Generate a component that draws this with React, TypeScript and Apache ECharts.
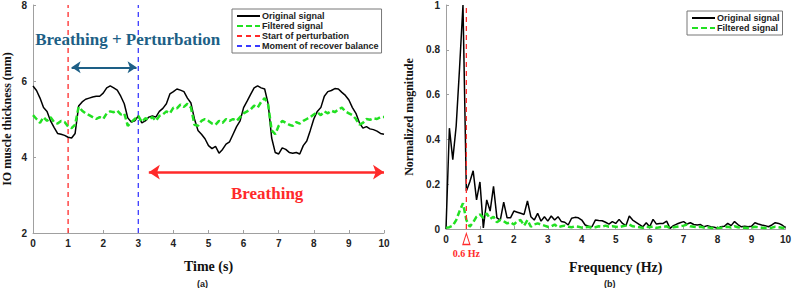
import React, { useEffect, useRef } from "react";
import * as echarts from "echarts";

// ---- data ----
const timeStep = 0.1; // s
const originalSignal = [
  5.87, 5.75, 5.55, 5.3, 5.2, 4.95, 4.78, 4.62, 4.6, 4.57,
  4.52, 4.5, 4.62, 5.34, 5.45, 5.52, 5.55, 5.58, 5.6, 5.6,
  5.68, 5.82, 5.87, 5.82, 5.76, 5.6, 5.4, 5.03, 4.92, 4.95,
  5.08, 4.9, 4.95, 5.05, 5.08, 5.05, 5.2, 5.28, 5.4, 5.66,
  5.72, 5.79, 5.76, 5.72, 5.55, 5.42, 5.0, 4.7, 4.6, 4.48,
  4.3, 4.22, 4.28, 4.1, 4.2, 4.34, 4.4, 4.6, 4.8, 4.95,
  5.3, 5.47, 5.65, 5.82, 5.87, 5.82, 5.79, 5.4, 4.5, 4.12,
  4.08, 4.24, 4.2, 4.12, 4.1, 4.12, 4.08, 4.3, 4.42, 4.7,
  5.0, 5.2, 5.3, 5.6, 5.72, 5.75, 5.8, 5.79, 5.7, 5.62,
  5.5, 5.3, 5.15, 4.9, 4.76, 4.8, 4.74, 4.72, 4.68, 4.62,
  4.6,
];
const filteredSignal = [
  5.1, 5.0, 4.9, 5.05, 4.95, 5.05, 4.92, 4.88, 4.95, 4.92,
  4.8, 4.76, 4.85, 5.32, 5.22, 5.15, 5.1, 5.05, 5.0, 5.05,
  5.0, 5.15, 5.2, 5.18, 5.22, 5.12, 5.15, 4.82, 4.92, 5.0,
  5.08, 4.92, 5.02, 4.98, 5.05, 4.95, 5.08, 5.12, 5.2, 5.15,
  5.3, 5.28, 5.38, 5.32, 5.4, 5.3, 4.85, 4.82, 4.95, 5.0,
  4.95, 4.88, 4.85, 4.95, 4.9, 5.0, 4.95, 5.0, 4.95, 5.05,
  5.15, 5.2, 5.25, 5.35, 5.3, 5.45, 5.55, 5.38, 4.7, 4.6,
  4.82, 4.95, 4.9, 4.85, 4.82, 4.92, 4.88, 4.95, 5.0, 5.05,
  5.12, 5.18, 5.1, 5.2, 5.15, 5.22, 5.18, 5.25, 5.3, 5.2,
  5.15, 5.1, 5.0, 4.85, 4.9, 5.0, 4.98, 5.02, 5.0, 5.05,
  5.05,
];
const freqStep = 0.1; // Hz
const originalSpectrum = [
  0.0, 0.45, 0.31, 0.46, 0.72, 1.0, 0.17, 0.21, 0.26, 0.13,
  0.21, 0.005, 0.13, 0.08, 0.19, 0.05, 0.04, 0.12, 0.05, 0.05,
  0.08, 0.075, 0.07, 0.065, 0.125, 0.055, 0.04, 0.07, 0.035, 0.055,
  0.035, 0.058, 0.04, 0.055, 0.033, 0.03, 0.018, 0.048, 0.052, 0.05,
  0.04, 0.018, 0.012, 0.01, 0.04, 0.038, 0.037, 0.03, 0.022, 0.033,
  0.025, 0.043, 0.025, 0.015, 0.058, 0.04, 0.03, 0.02, 0.01, 0.028,
  0.01, 0.043, 0.022, 0.025, 0.025, 0.035, 0.003, 0.015, 0.022, 0.028,
  0.033, 0.022, 0.028, 0.02, 0.018, 0.02, 0.01, 0.015, 0.01, 0.008,
  0.003, 0.01, 0.012, 0.025, 0.015, 0.033, 0.02, 0.01, 0.012, 0.01,
  0.012, 0.028, 0.022, 0.018, 0.015, 0.01, 0.018, 0.028, 0.025, 0.018,
  0.006,
];
const filteredSpectrum = [
  0.005, 0.008, 0.015, 0.04, 0.08, 0.115, 0.04, 0.01, 0.03, 0.055,
  0.065, 0.05, 0.07, 0.045, 0.055, 0.03, 0.04, 0.035, 0.025, 0.03,
  0.02, 0.035, 0.04, 0.015, 0.04, 0.01, 0.02, 0.025, 0.02, 0.015,
  0.01, 0.012, 0.02, 0.008, 0.012, 0.015, 0.01, 0.008, 0.012, 0.01,
  0.006, 0.008, 0.01, 0.005, 0.008, 0.012, 0.01, 0.015, 0.01, 0.012,
  0.01, 0.008, 0.012, 0.015, 0.02, 0.012, 0.01, 0.008, 0.005, 0.01,
  0.008, 0.012, 0.005, 0.008, 0.01, 0.012, 0.004, 0.008, 0.01, 0.012,
  0.015, 0.02, 0.012, 0.01, 0.008, 0.01, 0.006, 0.008, 0.005, 0.004,
  0.005, 0.006, 0.008, 0.01, 0.006, 0.012, 0.008, 0.005, 0.006, 0.005,
  0.006, 0.01, 0.008, 0.006, 0.005, 0.004, 0.006, 0.01, 0.008, 0.006,
  0.004,
];
const perturbationStart = 1; // s
const recoverMoment = 3; // s
const peakFrequency = 0.6; // Hz
const thicknessRange = [2, 8];
const magnitudeRange = [0, 1];
const legendLeft = ["Original signal", "Filtered signal", "Start of perturbation", "Moment of recover balance"];
const legendRight = ["Original signal", "Filtered signal"];

const SANS = "'Liberation Sans', Arial, sans-serif";
const SERIF = "'Liberation Serif', 'Times New Roman', serif";
const GREEN = "#22e022";
const RED = "#ff2a2a";
const BLUE = "#3a3aff";
const TEAL = "#1d5f86";
const AXIS = "#a0a0a0";

export default function App() {
  const ref = useRef<HTMLDivElement>(null);
  useEffect(() => {
    const chart = echarts.init(ref.current!, undefined, { renderer: "svg" });
    const tSeries = (arr: number[]) => arr.map((v, i) => [+(i * timeStep).toFixed(2), v]);
    const fSeries = (arr: number[]) => arr.map((v, i) => [+(i * freqStep).toFixed(2), v]);

    const axisCommon = {
      axisLine: { show: true, lineStyle: { color: AXIS, width: 1 } },
      axisTick: { show: true, inside: true, length: 3, lineStyle: { color: AXIS } },
      splitLine: { show: false },
      axisLabel: { fontFamily: SANS, fontWeight: "bold" as const, fontSize: 10, color: "#222" },
      nameTextStyle: { fontFamily: SERIF, fontWeight: "bold" as const, color: "#111" },
    };

    const legendCommon = {
      orient: "vertical" as const,
      itemWidth: 23,
      itemHeight: 10,
      itemGap: 0,
      padding: [2, 3, 2, 4],
      borderColor: "#777",
      borderWidth: 1,
      borderRadius: 0,
      backgroundColor: "#fff",
      itemStyle: { opacity: 0 },
      textStyle: { fontFamily: SANS, fontWeight: "bold" as const, fontSize: 9, color: "#222", lineHeight: 10, padding: [0, 0, 0, -3] },
      selectedMode: false as const,
    };

    chart.setOption({
      animation: false,
      grid: [
        { left: 33, top: 4, width: 351, height: 229 },
        { left: 446, top: 5, width: 342, height: 224 },
      ],
      xAxis: [
        {
          ...axisCommon, gridIndex: 0, type: "value", min: 0, max: 10, interval: 1,
          name: "Time (s)", nameLocation: "middle", nameGap: 26,
          nameTextStyle: { ...axisCommon.nameTextStyle, fontSize: 14 },
          axisLabel: { ...axisCommon.axisLabel, margin: 5 },
        },
        {
          ...axisCommon, gridIndex: 1, type: "value", min: 0, max: 10, interval: 1,
          name: "Frequency (Hz)", nameLocation: "middle", nameGap: 31,
          nameTextStyle: { ...axisCommon.nameTextStyle, fontSize: 14 },
          axisLabel: { ...axisCommon.axisLabel, margin: 5 },
        },
      ],
      yAxis: [
        {
          ...axisCommon, gridIndex: 0, type: "value", min: thicknessRange[0], max: thicknessRange[1], interval: 2,
          name: "IO muscle thickness (mm)", nameLocation: "middle", nameGap: 20,
          nameTextStyle: { ...axisCommon.nameTextStyle, fontSize: 12 },
          axisLabel: { ...axisCommon.axisLabel, margin: 6 },
        },
        {
          ...axisCommon, gridIndex: 1, type: "value", min: magnitudeRange[0], max: magnitudeRange[1], interval: 0.2,
          name: "Normalized magnitude", nameLocation: "middle", nameGap: 31,
          nameTextStyle: { ...axisCommon.nameTextStyle, fontSize: 12 },
          axisLabel: { ...axisCommon.axisLabel, margin: 6 },
        },
      ],
      legend: [
        { ...legendCommon, data: legendLeft, left: 232, top: 9 },
        { ...legendCommon, data: legendRight, left: 687, top: 11 },
      ],
      graphic: [
        { type: "text", left: 197, top: 279, style: { text: "(a)", font: `bold 9px ${SANS}`, fill: "#222" } },
        { type: "text", left: 604, top: 279, style: { text: "(b)", font: `bold 9px ${SANS}`, fill: "#222" } },
      ],
      series: [
        {
          name: "Original signal", type: "line", xAxisIndex: 0, yAxisIndex: 0, symbol: "none",
          data: tSeries(originalSignal), lineStyle: { color: "#000", width: 1.5 }, itemStyle: { color: "#000" }, z: 3,
        },
        {
          name: "Filtered signal", type: "line", xAxisIndex: 0, yAxisIndex: 0, symbol: "none",
          data: tSeries(filteredSignal), lineStyle: { color: GREEN, width: 2.5, type: [6, 3] }, itemStyle: { color: GREEN }, z: 4,
        },
        {
          name: "Start of perturbation", type: "line", xAxisIndex: 0, yAxisIndex: 0, symbol: "none",
          data: [[perturbationStart, thicknessRange[0]], [perturbationStart, thicknessRange[1]]],
          lineStyle: { color: RED, width: 1.3, type: [5, 4] }, itemStyle: { color: RED }, z: 2,
          markLine: {
            silent: true, symbol: ["arrow", "arrow"], symbolSize: [9, 9], label: { show: false },
            data: [
              [
                { coord: [1.1, 6.36], lineStyle: { color: TEAL, width: 2, type: "solid" }, itemStyle: { color: TEAL } },
                { coord: [2.95, 6.36] },
              ],
              [
                { coord: [3.3, 3.6], lineStyle: { color: RED, width: 2.5, type: "solid" }, itemStyle: { color: RED }, symbolSize: [11, 11] },
                { coord: [10, 3.6], symbolSize: [11, 11] },
              ],
            ],
          },
          markPoint: {
            silent: true,
            symbol: "circle", symbolSize: 0,
            data: [
              {
                coord: [2.7, 7.1],
                label: { show: true, position: "inside", formatter: "Breathing + Perturbation", fontFamily: SERIF, fontWeight: "bold", fontSize: 17, color: TEAL },
              },
              {
                coord: [6.67, 3.05],
                label: { show: true, position: "inside", formatter: "Breathing", fontFamily: SERIF, fontWeight: "bold", fontSize: 17, color: RED },
              },
            ],
          },
        },
        {
          name: "Moment of recover balance", type: "line", xAxisIndex: 0, yAxisIndex: 0, symbol: "none",
          data: [[recoverMoment, thicknessRange[0]], [recoverMoment, thicknessRange[1]]],
          lineStyle: { color: BLUE, width: 1.3, type: [5, 4] }, itemStyle: { color: BLUE }, z: 2,
        },
        {
          name: "Original signal", type: "line", xAxisIndex: 1, yAxisIndex: 1, symbol: "none",
          data: fSeries(originalSpectrum), lineStyle: { color: "#000", width: 1.5 }, itemStyle: { color: "#000" }, z: 3,
        },
        {
          name: "Filtered signal", type: "line", xAxisIndex: 1, yAxisIndex: 1, symbol: "none",
          data: fSeries(filteredSpectrum), lineStyle: { color: GREEN, width: 2.5, type: [6, 3] }, itemStyle: { color: GREEN }, z: 4,
        },
        {
          name: "Peak frequency", type: "line", xAxisIndex: 1, yAxisIndex: 1, symbol: "none",
          data: [[peakFrequency, magnitudeRange[0]], [peakFrequency, magnitudeRange[1]]],
          lineStyle: { color: RED, width: 1.3, type: [5, 4] }, itemStyle: { color: RED }, z: 5,
          markPoint: {
            silent: true,
            data: [
              {
                coord: [peakFrequency, 0],
                symbol: "triangle", symbolSize: [7, 11], symbolOffset: [0, 10],
                itemStyle: { color: "#fff", borderColor: RED, borderWidth: 1.2 },
                label: { show: true, position: "bottom", distance: 3, formatter: "0.6 Hz", fontFamily: SERIF, fontWeight: "bold", fontSize: 10, color: RED },
              },
            ],
          },
        },
      ],
    });
    return () => chart.dispose();
  }, []);
  return <div ref={ref} style={{ width: 794, height: 288, position: "absolute", left: 0, top: 0, background: "#fff" }} />;
}
